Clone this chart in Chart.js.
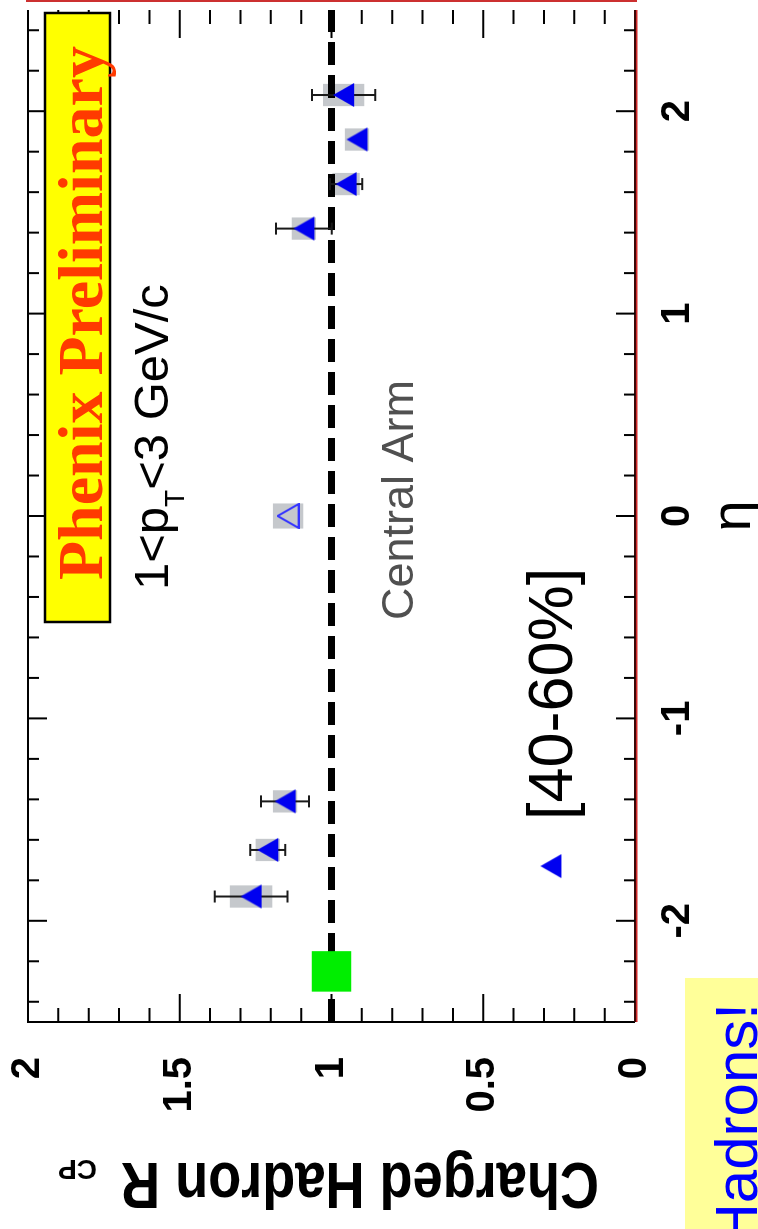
<!DOCTYPE html>
<html>
<head>
<meta charset="utf-8">
<script src="https://cdn.jsdelivr.net/npm/chart.js@4/dist/chart.umd.min.js"></script>
<style>
html, body { margin: 0; padding: 0; background: #fff; overflow: hidden; }
/* the plot is drawn upright and then turned a quarter turn, like the slide */
#wrap { position: absolute; left: 0; top: 0; width: 1232px; height: 758px;
        transform-origin: 0 0; transform: translate(0px, 1229px) rotate(-90deg); }
</style>
</head>
<body>
<div id="wrap"><canvas id="rcpChart" width="1232" height="758"></canvas></div>
<script>
// muon arm points (40-60% / peripheral)
const etaFwd  = [-1.88, -1.65, -1.41, 1.42, 1.64, 1.86, 2.08];
const rcpFwd  = [1.265, 1.21, 1.153, 1.091, 0.952, 0.916, 0.96];
const statErr = [0.12, 0.058, 0.079, 0.092, 0.053, 0, 0.104];
const sysErr  = [0.07, 0.04, 0.04, 0.04, 0.045, 0.04, 0.068];

// central arm point
const etaCentral = [0];
const rcpCentral = [1.143];
const sysCentral = [0.05];

// unity line and normalisation box
const refEta = [-2.5, 2.5];
const refRcp = [1, 1];
const normEta = [-2.25];
const normRcp = [1];
const normErr = [0.065];

// legend marker
const legendEta = [-1.73];
const legendRcp = [0.277];

const etaTicks = [-2, -1, 0, 1, 2];
const etaTickLabels = ['-2', '-1', '0', '1', '2'];
const rcpTicks = [0, 0.5, 1, 1.5, 2];
const rcpTickLabels = ['0', '0.5', '1', '1.5', '2'];

const sans = "'Liberation Sans', Arial, Helvetica, sans-serif";
const serif = "'Liberation Serif', 'Times New Roman', serif";

function makeTriangle(filled) {
    const c = document.createElement('canvas');
    c.width = 26; c.height = 23;
    const g = c.getContext('2d');
    g.beginPath();
    g.moveTo(13, 1); g.lineTo(25, 22); g.lineTo(1, 22); g.closePath();
    if (filled) { g.fillStyle = '#0000f0'; g.fill(); }
    else { g.strokeStyle = '#3434ff'; g.lineWidth = 2; g.stroke(); }
    return c;
}
const triFilled = makeTriangle(true);
const triOpen = makeTriangle(false);

const decor = {
    id: 'decor',
    beforeDatasetsDraw(chart) {
        const ctx = chart.ctx, x = chart.scales.x, y = chart.scales.y;
        ctx.save();
        ctx.fillStyle = '#c5c8cc';
        etaFwd.forEach((e, i) => {
            const x0 = x.getPixelForValue(e - 0.055), x1 = x.getPixelForValue(e + 0.055);
            const y0 = y.getPixelForValue(rcpFwd[i] + sysErr[i]), y1 = y.getPixelForValue(rcpFwd[i] - sysErr[i]);
            ctx.fillRect(x0, y0, x1 - x0, y1 - y0);
        });
        etaCentral.forEach((e, i) => {
            const x0 = x.getPixelForValue(e - 0.062), x1 = x.getPixelForValue(e + 0.062);
            const y0 = y.getPixelForValue(rcpCentral[i] + sysCentral[i]), y1 = y.getPixelForValue(rcpCentral[i] - sysCentral[i]);
            ctx.fillRect(x0, y0, x1 - x0, y1 - y0);
        });
        ctx.restore();
    },
    afterDatasetDraw(chart, args) {
        if (args.index !== 0) return;
        const ctx = chart.ctx, x = chart.scales.x, y = chart.scales.y;
        ctx.save();
        // normalisation uncertainty
        ctx.fillStyle = '#00ee00';
        normEta.forEach((e, i) => {
            const x0 = x.getPixelForValue(e - 0.1), x1 = x.getPixelForValue(e + 0.1);
            const y0 = y.getPixelForValue(normRcp[i] + normErr[i]), y1 = y.getPixelForValue(normRcp[i] - normErr[i]);
            ctx.fillRect(x0, y0, x1 - x0, y1 - y0);
        });
        // statistical error bars
        ctx.strokeStyle = '#1a1a1a';
        ctx.lineWidth = 2;
        etaFwd.forEach((e, i) => {
            if (!statErr[i]) return;
            const px = x.getPixelForValue(e);
            const y0 = y.getPixelForValue(rcpFwd[i] + statErr[i]), y1 = y.getPixelForValue(rcpFwd[i] - statErr[i]);
            ctx.beginPath();
            ctx.moveTo(px, y0); ctx.lineTo(px, y1);
            ctx.moveTo(px - 6, y0); ctx.lineTo(px + 6, y0);
            ctx.moveTo(px - 6, y1); ctx.lineTo(px + 6, y1);
            ctx.stroke();
        });
        ctx.restore();
    },
    afterDraw(chart) {
        const ctx = chart.ctx, x = chart.scales.x, y = chart.scales.y, a = chart.chartArea;
        ctx.save();
        ctx.lineCap = 'butt';
        // frame
        ctx.strokeStyle = '#000'; ctx.lineWidth = 2;
        ctx.beginPath();
        ctx.moveTo(a.left, a.bottom); ctx.lineTo(a.left, a.top); ctx.lineTo(a.right, a.top);
        ctx.stroke();
        ctx.strokeStyle = '#3a0808';
        ctx.beginPath(); ctx.moveTo(a.left, a.bottom); ctx.lineTo(a.right, a.bottom); ctx.stroke();
        ctx.strokeStyle = '#d02828'; ctx.lineWidth = 1.5;
        ctx.beginPath(); ctx.moveTo(a.left, a.bottom + 1.8); ctx.lineTo(a.right, a.bottom + 1.8); ctx.stroke();
        ctx.strokeStyle = '#cc3030'; ctx.lineWidth = 2;
        ctx.beginPath(); ctx.moveTo(1228, a.top - 2); ctx.lineTo(1228, a.bottom + 2); ctx.stroke();

        // inward ticks
        ctx.strokeStyle = '#000'; ctx.lineWidth = 2;
        ctx.beginPath();
        for (let k = -12; k <= 12; k++) {
            const px = x.getPixelForValue(k * 0.2);
            const len = k % 5 === 0 ? 19 : 11;
            ctx.moveTo(px, a.top); ctx.lineTo(px, a.top + len);
            ctx.moveTo(px, a.bottom); ctx.lineTo(px, a.bottom - len);
        }
        for (let k = 1; k < 20; k++) {
            const py = y.getPixelForValue(k * 0.1);
            const len = k % 5 === 0 ? 28 : 14;
            ctx.moveTo(a.left, py); ctx.lineTo(a.left + len, py);
            ctx.moveTo(a.right, py); ctx.lineTo(a.right - len, py);
        }
        ctx.stroke();

        ctx.textAlign = 'left';
        ctx.textBaseline = 'alphabetic';

        // Phenix Preliminary
        ctx.fillStyle = '#ffff00';
        ctx.fillRect(607, 45, 609, 65);
        ctx.strokeStyle = '#000'; ctx.lineWidth = 2.5;
        ctx.strokeRect(607, 45, 609, 65);
        ctx.fillStyle = '#ff3a00';
        ctx.font = 'bold 64px ' + serif;
        ctx.fillText('Phenix Preliminary', 649, 102);

        // pT range
        ctx.fillStyle = '#000';
        let cx = 639;
        ctx.font = '49px ' + sans;
        ctx.fillText('1<p', cx, 168); cx += ctx.measureText('1<p').width;
        ctx.font = '28px ' + sans;
        ctx.fillText('T', cx, 184); cx += ctx.measureText('T').width;
        ctx.font = '49px ' + sans;
        ctx.fillText('<3 GeV/c', cx, 168);

        // Central Arm
        ctx.fillStyle = '#505050';
        ctx.font = '45px ' + sans;
        ctx.fillText('Central Arm', 609, 413);

        // legend
        legendEta.forEach((e, i) => {
            const px = x.getPixelForValue(e), py = y.getPixelForValue(legendRcp[i]);
            ctx.drawImage(triFilled, px - 13, py - 11.5);
        });
        ctx.fillStyle = '#000';
        ctx.font = '63px ' + sans;
        ctx.fillText('[40-60%]', 409, 572);

        // eta title
        ctx.textAlign = 'center';
        ctx.font = '56px ' + sans;
        ctx.fillText('\u03b7', x.getPixelForValue(0), 750);

        // R_CP title
        ctx.textAlign = 'left';
        ctx.save();
        ctx.translate(66, 599);
        ctx.rotate(-Math.PI / 2);
        ctx.font = 'bold 64px ' + sans;
        const t = 'Charged Hadron R';
        const sx = 478 / ctx.measureText(t).width;
        ctx.save(); ctx.scale(sx, 1); ctx.fillText(t, 0, 0); ctx.restore();
        ctx.font = 'bold 28px ' + sans;
        ctx.fillText('CP', 502, 3);
        ctx.restore();

        // Hadrons! box (cut by slide edge)
        ctx.fillStyle = '#ffff99';
        ctx.fillRect(0, 685, 251, 73);
        ctx.fillStyle = '#0000ff';
        ctx.textAlign = 'right';
        ctx.font = '60px ' + sans;
        ctx.fillText('Hadrons!', 226, 757);
        ctx.restore();
    }
};

new Chart(document.getElementById('rcpChart'), {
    type: 'scatter',
    data: {
        datasets: [
            {
                type: 'line',
                data: refEta.map((e, i) => ({ x: e, y: refRcp[i] })),
                borderColor: '#000',
                borderWidth: 7,
                borderDash: [23, 10],
                pointRadius: 0,
                fill: false,
                order: 3
            },
            {
                data: etaFwd.map((e, i) => ({ x: e, y: rcpFwd[i] })),
                pointStyle: triFilled,
                pointRadius: 12,
                order: 2
            },
            {
                data: etaCentral.map((e, i) => ({ x: e, y: rcpCentral[i] })),
                pointStyle: triOpen,
                pointRadius: 12,
                order: 1
            }
        ]
    },
    options: {
        responsive: false,
        animation: false,
        devicePixelRatio: 1,
        events: [],
        layout: { padding: { top: 28, left: 0, right: 0, bottom: 0 } },
        plugins: { legend: { display: false }, tooltip: { enabled: false } },
        scales: {
            x: {
                type: 'linear', min: -2.5, max: 2.5,
                grid: { display: false, drawTicks: false },
                border: { display: false },
                afterBuildTicks: s => { s.ticks = etaTicks.map(v => ({ value: v })); },
                afterFit: s => { s.height = 123; s.paddingLeft = 0; s.paddingRight = 0; },
                ticks: {
                    font: { family: sans, size: 40, weight: 'bold' },
                    color: '#000', padding: 19, maxRotation: 0, autoSkip: false,
                    callback: (v, i) => etaTickLabels[i]
                }
            },
            y: {
                type: 'linear', min: 0, max: 2,
                grid: { display: false, drawTicks: false },
                border: { display: false },
                afterBuildTicks: s => { s.ticks = rcpTicks.map(v => ({ value: v })); },
                afterFit: s => { s.width = 207; s.paddingTop = 0; s.paddingBottom = 0; },
                ticks: {
                    font: { family: sans, size: 40, weight: 'bold' },
                    color: '#000', padding: 35, autoSkip: false,
                    callback: (v, i) => rcpTickLabels[i]
                }
            }
        }
    },
    plugins: [decor]
});
</script>
</body>
</html>
